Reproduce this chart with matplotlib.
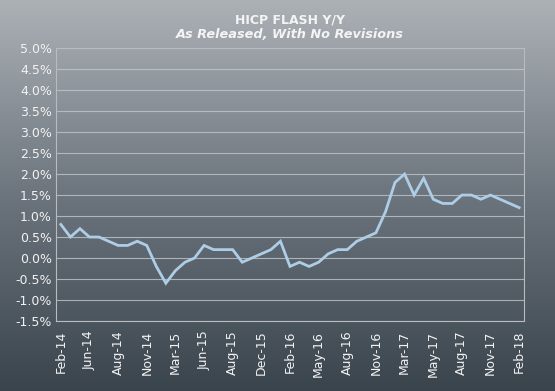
import numpy as np
import matplotlib.pyplot as plt
from matplotlib.colors import LinearSegmentedColormap

# HICP flash y/y, as released (Feb-14 .. Feb-18, monthly)
hicp = [0.8, 0.5, 0.7, 0.5, 0.5, 0.4, 0.3, 0.3, 0.4, 0.3,
        -0.2, -0.6, -0.3, -0.1, 0.0, 0.3, 0.2, 0.2, 0.2, -0.1, 0.0, 0.1, 0.2,
        0.4, -0.2, -0.1, -0.2, -0.1, 0.1, 0.2, 0.2, 0.4, 0.5, 0.6, 1.1,
        1.8, 2.0, 1.5, 1.9, 1.4, 1.3, 1.3, 1.5, 1.5, 1.4, 1.5, 1.4,
        1.3, 1.2]
tick_labels = ['Feb-14', 'Jun-14', 'Aug-14', 'Nov-14', 'Mar-15', 'Jun-15',
               'Aug-15', 'Dec-15', 'Feb-16', 'May-16', 'Aug-16', 'Nov-16',
               'Mar-17', 'May-17', 'Aug-17', 'Nov-17', 'Feb-18']
y_ticks = np.arange(-1.5, 5.01, 0.5)

fig = plt.figure(figsize=(5.55, 3.91), dpi=100)

# gradient background over the whole figure
bg = fig.add_axes([0, 0, 1, 1], zorder=-1)
grad_cmap = LinearSegmentedColormap.from_list('bg', ['#3a444d', '#6c757d', '#acb1b6'])
bg.imshow(np.linspace(0, 1, 256).reshape(-1, 1), aspect='auto', cmap=grad_cmap,
          origin='lower', extent=[0, 1, 0, 1])
bg.axis('off')

ax = fig.add_axes([0.101, 0.179, 0.843, 0.698])
ax.set_facecolor('none')

x = np.arange(len(hicp))
ax.plot(x, hicp, color='#aecde6', lw=2, solid_joinstyle='miter', zorder=3)

ax.set_xlim(-0.5, len(hicp) - 0.5)
ax.set_ylim(-1.5, 5.0)
ax.set_yticks(y_ticks)
ax.set_yticklabels(['%.1f%%' % v for v in y_ticks])
ax.set_xticks(x[::3])
ax.set_xticklabels(tick_labels, rotation=90)

ax.grid(axis='y', color='#c3c7cb', lw=0.8, alpha=0.8)
ax.set_axisbelow(True)
for s in ax.spines.values():
    s.set_color('#b8bcc0')
    s.set_linewidth(0.8)
ax.tick_params(length=0, colors='#f2f2f2', labelsize=9)
ax.tick_params(axis='y', pad=3)
ax.tick_params(axis='x', pad=7)

fig.text(0.523, 0.948, 'HICP FLASH Y/Y', ha='center', va='center',
         color='#f4f4f4', fontsize=9, fontweight='bold')
fig.text(0.523, 0.912, 'As Released, With No Revisions', ha='center', va='center',
         color='#f4f4f4', fontsize=9.3, fontweight='bold', style='italic')

fig.savefig('out.png', dpi=100)
